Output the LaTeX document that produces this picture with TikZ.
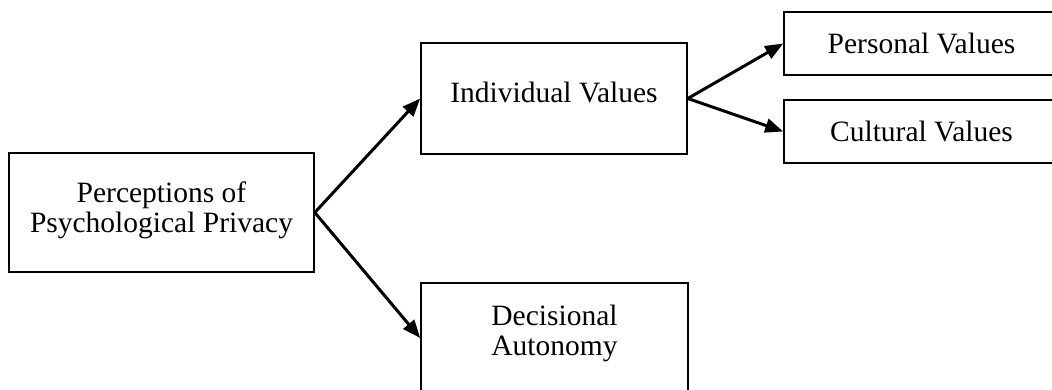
\documentclass[tikz,border=0pt]{standalone}
\usepackage{fontspec}
\setmainfont{Liberation Serif}
\usepackage{tikz}
\usetikzlibrary{arrows.meta}

\begin{document}
\begin{tikzpicture}[x=1pt, y=-1pt,
    box/.style={draw, line width=1.6pt, inner sep=0pt, align=center,
        font=\fontsize{29.5}{30}\selectfont},
    link/.style={line width=3pt, -{Triangle[length=18pt, width=14pt]}}]
\useasboundingbox (0,0) rectangle (1052,389);
\clip (0,0) rectangle (1052,389);

% Boxes
\node[box, minimum width=305pt, minimum height=119pt, text depth=11.7pt] (perc) at (161.5, 212.5) {Perceptions of\\Psychological Privacy};
\node[box, minimum width=266pt, minimum height=111pt, text depth=13pt] (indiv) at (554, 98.5) {Individual Values};
\node[box, minimum width=267pt, minimum height=110pt, text depth=16pt] (decis) at (554.5, 338) {Decisional\\Autonomy};
\node[box, minimum width=275pt, minimum height=63pt] (pers) at (921.5, 43.5) {Personal Values};
\node[box, minimum width=275pt, minimum height=63pt] (cult) at (921.5, 131.5) {Cultural Values};

% Arrows
\draw[link] (perc.east) -- (indiv.west);
\draw[link] (perc.east) -- (decis.west);
\draw[link] (indiv.east) -- (pers.west);
\draw[link] (indiv.east) -- (cult.west);
\end{tikzpicture}
\end{document}
